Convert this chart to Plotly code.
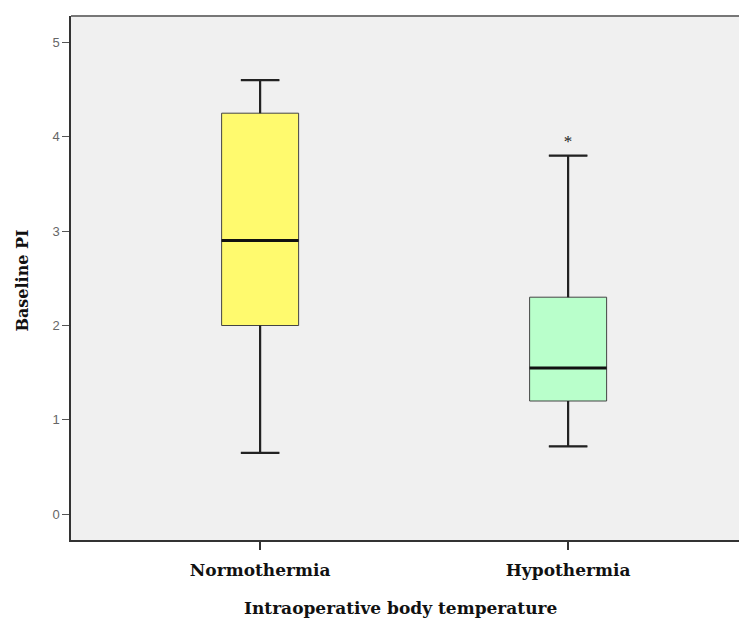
import plotly.graph_objects as go

categories = ["Normothermia", "Hypothermia"]
lower_whisker = [0.65, 0.72]
q1 = [2.0, 1.2]
median = [2.9, 1.55]
q3 = [4.25, 2.3]
upper_whisker = [4.6, 3.8]
outlier_cat = ["Hypothermia"]
outlier_val = [3.94]
fill_colors = ["#fffa6e", "#b9ffcb"]
y_ticks = [0, 1, 2, 3, 4, 5]

pos = {c: i for i, c in enumerate(categories)}
box_w = 0.25
cap_w = 0.125
serif = "DejaVu Serif"

fig = go.Figure()
for i, c in enumerate(categories):
    fig.add_trace(go.Box(
        x=[pos[c]], q1=[q1[i]], median=[median[i]], q3=[q3[i]],
        lowerfence=[lower_whisker[i]], upperfence=[upper_whisker[i]],
        width=box_w, whiskerwidth=0.5, fillcolor=fill_colors[i],
        line=dict(color="#444444", width=1), boxpoints=False,
        showlegend=False, hoverinfo="skip"))
    x0 = pos[c]
    fig.add_trace(go.Scatter(
        x=[x0, x0, None, x0, x0, None, x0 - cap_w / 2, x0 + cap_w / 2, None, x0 - cap_w / 2, x0 + cap_w / 2],
        y=[q3[i], upper_whisker[i], None, q1[i], lower_whisker[i], None,
           upper_whisker[i], upper_whisker[i], None, lower_whisker[i], lower_whisker[i]],
        mode="lines", line=dict(color="#222222", width=2.2), showlegend=False, hoverinfo="skip"))
    fig.add_trace(go.Scatter(
        x=[x0 - box_w / 2, x0 + box_w / 2], y=[median[i], median[i]],
        mode="lines", line=dict(color="#111111", width=3), showlegend=False, hoverinfo="skip"))

fig.add_trace(go.Scatter(
    x=[pos[c] for c in outlier_cat], y=outlier_val, mode="text", text=["*"] * len(outlier_val),
    textfont=dict(family="Liberation Serif", size=17, color="#222222"),
    textposition="middle center", showlegend=False, hoverinfo="skip"))

fig.update_layout(
    width=740, height=616,
    margin=dict(l=63, r=0, t=8, b=84),
    paper_bgcolor="white", plot_bgcolor="#f0f0f0",
    xaxis=dict(range=[-0.614, 1.584], tickvals=[0, 1],
               ticktext=["<b>" + c + "</b>" for c in categories],
               showgrid=False, zeroline=False, showline=True, linecolor="#333333", linewidth=1.5,
               mirror=False, ticks="outside", ticklen=8, tickwidth=1.5, tickcolor="#333333",
               tickfont=dict(family=serif, size=17, color="#111111"),
               ticklabelstandoff=6),
    yaxis=dict(range=[-0.273, 5.28], tickvals=y_ticks, showgrid=False, zeroline=False,
               showline=True, linecolor="#333333", linewidth=1.5, mirror=False,
               ticks="outside", ticklen=7, tickwidth=1.2, tickcolor="#555555",
               tickfont=dict(family="Liberation Sans", size=13, color="#666666")),
    shapes=[dict(type="line", xref="paper", yref="paper", x0=0, x1=1, y0=1, y1=1,
                 line=dict(color="#777777", width=2))],
    annotations=[
        dict(text="<b>Baseline PI</b>", xref="paper", yref="paper", x=-0.071, y=0.495,
             textangle=-90, showarrow=False, xanchor="center", yanchor="middle",
             font=dict(family=serif, size=16, color="#111111")),
        dict(text="<b>Intraoperative body temperature</b>", xref="paper", yref="paper",
             x=0.486, y=-0.1295, showarrow=False, xanchor="center", yanchor="middle",
             font=dict(family=serif, size=17, color="#111111")),
    ],
)

fig.write_html("out.html")
